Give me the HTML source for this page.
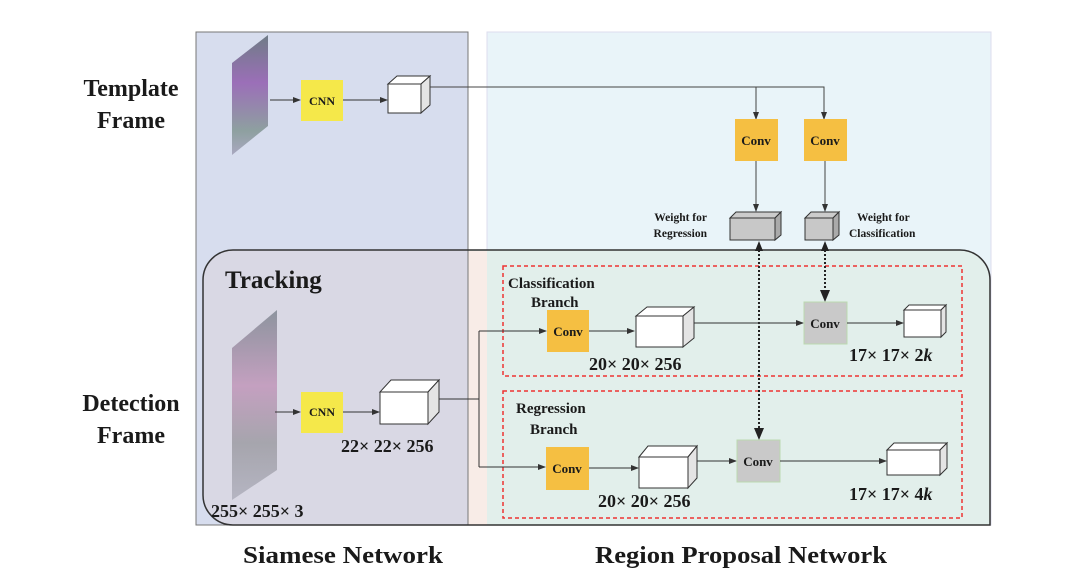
<!DOCTYPE html>
<html><head><meta charset="utf-8"><style>
html,body{margin:0;padding:0;background:#fff}
svg{display:block}
text{font-family:"Liberation Serif",serif;font-weight:bold;fill:#1a1a1a}
</style></head><body>
<svg width="1088" height="588" viewBox="0 0 1088 588" xmlns="http://www.w3.org/2000/svg">
<defs>
<marker id="a" markerWidth="8" markerHeight="8" refX="7" refY="4" orient="auto" markerUnits="userSpaceOnUse"><path d="M0,1 L8,4 L0,7 z" fill="#333"/></marker>
<linearGradient id="g1" x1="0" y1="0" x2="0" y2="1"><stop offset="0" stop-color="#6f7c86"/><stop offset="0.4" stop-color="#9b6fb8"/><stop offset="0.8" stop-color="#8ea0a0"/><stop offset="1" stop-color="#a9a8c0"/></linearGradient>
<linearGradient id="g2" x1="0" y1="0" x2="0" y2="1"><stop offset="0" stop-color="#8d949e"/><stop offset="0.4" stop-color="#c4a0c0"/><stop offset="0.7" stop-color="#a6a5ad"/><stop offset="1" stop-color="#b5b5c2"/></linearGradient>
</defs>
<rect x="196" y="32" width="272" height="493" fill="#d7ddee" stroke="#777" stroke-width="1"/>
<rect x="487" y="32" width="504" height="493" fill="#e9f4f9" stroke="#dde" stroke-width="1"/>
<rect x="468" y="250" width="19" height="275" fill="#f8ece7"/>
<path d="M233,250 H960 A30,30 0 0 1 990,280 V525 H233 A30,30 0 0 1 203,495 V280 A30,30 0 0 1 233,250 Z" fill="#e2efeb" stroke="none"/>
<path d="M233,250 H468 V525 H233 A30,30 0 0 1 203,495 V280 A30,30 0 0 1 233,250 Z" fill="#d9d8e4"/>
<rect x="468" y="251" width="19" height="274" fill="#f8ece7"/>
<line x1="468" y1="250" x2="468" y2="525" stroke="#777"/>
<path d="M233,250 H960 A30,30 0 0 1 990,280 V525 H233 A30,30 0 0 1 203,495 V280 A30,30 0 0 1 233,250 Z" fill="none" stroke="#333" stroke-width="1.5"/>
<rect x="503" y="266" width="459" height="110" fill="none" stroke="#e33" stroke-width="1.5" stroke-dasharray="4,3"/>
<rect x="503" y="391" width="459" height="127" fill="none" stroke="#e33" stroke-width="1.5" stroke-dasharray="4,3"/>
<text x="131" y="96" font-size="24" text-anchor="middle">Template</text>
<text x="131" y="128" font-size="24" text-anchor="middle">Frame</text>
<text x="131" y="411" font-size="24" text-anchor="middle">Detection</text>
<text x="131" y="443" font-size="24" text-anchor="middle">Frame</text>
<text x="225" y="288" font-size="25">Tracking</text>
<text x="243" y="563" font-size="24" textLength="200" lengthAdjust="spacingAndGlyphs">Siamese Network</text>
<text x="595" y="563" font-size="24" textLength="292" lengthAdjust="spacingAndGlyphs">Region Proposal Network</text>
<polygon points="232,63 268,35 268,126 232,155" fill="url(#g1)"/>
<polygon points="232,348 277,310 277,470 232,500" fill="url(#g2)"/>
<line x1="270" y1="100" x2="300" y2="100" stroke="#333" marker-end="url(#a)"/>
<rect x="301" y="80" width="42" height="41" fill="#f5e84a"/>
<text x="322" y="105" font-size="12" text-anchor="middle">CNN</text>
<line x1="343" y1="100" x2="387" y2="100" stroke="#333" marker-end="url(#a)"/>
<polygon points="388,84 397,76 430,76 421,84" fill="#fff" stroke="#333"/>
<polygon points="421,84 430,76 430,105 421,113" fill="#e4e4e4" stroke="#333"/>
<rect x="388" y="84" width="33" height="29" fill="#fff" stroke="#333"/>
<polyline points="430,87 824,87 824,119" fill="none" stroke="#444" marker-end="url(#a)"/>
<line x1="756" y1="87" x2="756" y2="119" stroke="#444" marker-end="url(#a)"/>
<rect x="735" y="119" width="43" height="42" fill="#f5bf42"/>
<text x="756" y="145" font-size="13" text-anchor="middle">Conv</text>
<rect x="804" y="119" width="43" height="42" fill="#f5bf42"/>
<text x="825" y="145" font-size="13" text-anchor="middle">Conv</text>
<line x1="756" y1="161" x2="756" y2="211" stroke="#444" marker-end="url(#a)"/>
<line x1="825" y1="161" x2="825" y2="211" stroke="#444" marker-end="url(#a)"/>
<polygon points="730,218 736,212 781,212 775,218" fill="#ccc" stroke="#333"/>
<polygon points="775,218 781,212 781,235 775,240" fill="#aaa" stroke="#333"/>
<rect x="730" y="218" width="45" height="22" fill="#c8c8c8" stroke="#333"/>
<polygon points="805,218 811,212 839,212 833,218" fill="#ccc" stroke="#333"/>
<polygon points="833,218 839,212 839,235 833,240" fill="#aaa" stroke="#333"/>
<rect x="805" y="218" width="28" height="22" fill="#c8c8c8" stroke="#333"/>
<text x="707" y="221" font-size="11.5" text-anchor="end">Weight for</text>
<text x="707" y="237" font-size="11.5" text-anchor="end">Regression</text>
<text x="857" y="221" font-size="11.5">Weight for</text>
<text x="849" y="237" font-size="11.5">Classification</text>
<line x1="759" y1="250" x2="759" y2="428" stroke="#222" stroke-width="2" stroke-dasharray="2,2"/>
<path d="M759,241 l-4,10 h8 z" fill="#222"/>
<path d="M759,440 l-5,-12 h10 z" fill="#222"/>
<line x1="825" y1="250" x2="825" y2="290" stroke="#222" stroke-width="2" stroke-dasharray="2,2"/>
<path d="M825,241 l-4,10 h8 z" fill="#222"/>
<path d="M825,302 l-5,-12 h10 z" fill="#222"/>
<line x1="275" y1="412" x2="300" y2="412" stroke="#333" marker-end="url(#a)"/>
<rect x="301" y="392" width="42" height="41" fill="#f5e84a"/>
<text x="322" y="416" font-size="12" text-anchor="middle">CNN</text>
<line x1="343" y1="412" x2="379" y2="412" stroke="#333" marker-end="url(#a)"/>
<polygon points="380,392 391,380 439,380 428,392" fill="#fff" stroke="#333"/>
<polygon points="428,392 439,380 439,412 428,424" fill="#e4e4e4" stroke="#333"/>
<rect x="380" y="392" width="48" height="32" fill="#fff" stroke="#333"/>
<text x="341" y="452" font-size="18">22× 22× 256</text>
<text x="211" y="517" font-size="18">255× 255× 3</text>
<polyline points="439,399 479,399" fill="none" stroke="#333"/>
<line x1="479" y1="331" x2="479" y2="467" stroke="#333"/>
<line x1="479" y1="331" x2="546" y2="331" stroke="#333" marker-end="url(#a)"/>
<line x1="479" y1="467" x2="545" y2="467" stroke="#333" marker-end="url(#a)"/>
<text x="508" y="288" font-size="15">Classification</text>
<text x="531" y="307" font-size="15">Branch</text>
<rect x="547" y="310" width="42" height="42" fill="#f5bf42"/>
<text x="568" y="336" font-size="13" text-anchor="middle">Conv</text>
<line x1="589" y1="331" x2="634" y2="331" stroke="#333" marker-end="url(#a)"/>
<polygon points="636,316 647,307 694,307 683,316" fill="#fff" stroke="#333"/>
<polygon points="683,316 694,307 694,338 683,347" fill="#e4e4e4" stroke="#333"/>
<rect x="636" y="316" width="47" height="31" fill="#fff" stroke="#333"/>
<text x="589" y="370" font-size="18">20× 20× 256</text>
<line x1="694" y1="323" x2="803" y2="323" stroke="#333" marker-end="url(#a)"/>
<rect x="804" y="302" width="43" height="42" fill="#c9c9c9" stroke="#bcd9b0"/>
<text x="825" y="328" font-size="13" text-anchor="middle">Conv</text>
<line x1="847" y1="323" x2="903" y2="323" stroke="#333" marker-end="url(#a)"/>
<polygon points="904,310 909,305 946,305 941,310" fill="#fff" stroke="#333"/>
<polygon points="941,310 946,305 946,332 941,337" fill="#e4e4e4" stroke="#333"/>
<rect x="904" y="310" width="37" height="27" fill="#fff" stroke="#333"/>
<text x="849" y="361" font-size="18">17× 17× 2<tspan font-style="italic">k</tspan></text>
<text x="516" y="413" font-size="15">Regression</text>
<text x="530" y="434" font-size="15">Branch</text>
<rect x="546" y="447" width="43" height="43" fill="#f5bf42"/>
<text x="567" y="473" font-size="13" text-anchor="middle">Conv</text>
<line x1="589" y1="468" x2="638" y2="468" stroke="#333" marker-end="url(#a)"/>
<polygon points="639,457 648,446 697,446 688,457" fill="#fff" stroke="#333"/>
<polygon points="688,457 697,446 697,478 688,488" fill="#e4e4e4" stroke="#333"/>
<rect x="639" y="457" width="49" height="31" fill="#fff" stroke="#333"/>
<text x="598" y="507" font-size="18">20× 20× 256</text>
<line x1="697" y1="461" x2="736" y2="461" stroke="#333" marker-end="url(#a)"/>
<rect x="737" y="440" width="43" height="42" fill="#c9c9c9" stroke="#bcd9b0"/>
<text x="758" y="466" font-size="13" text-anchor="middle">Conv</text>
<line x1="780" y1="461" x2="886" y2="461" stroke="#333" marker-end="url(#a)"/>
<polygon points="887,450 894,443 947,443 940,450" fill="#fff" stroke="#333"/>
<polygon points="940,450 947,443 947,468 940,475" fill="#e4e4e4" stroke="#333"/>
<rect x="887" y="450" width="53" height="25" fill="#fff" stroke="#333"/>
<text x="849" y="500" font-size="18">17× 17× 4<tspan font-style="italic">k</tspan></text>
</svg>
</body></html>
